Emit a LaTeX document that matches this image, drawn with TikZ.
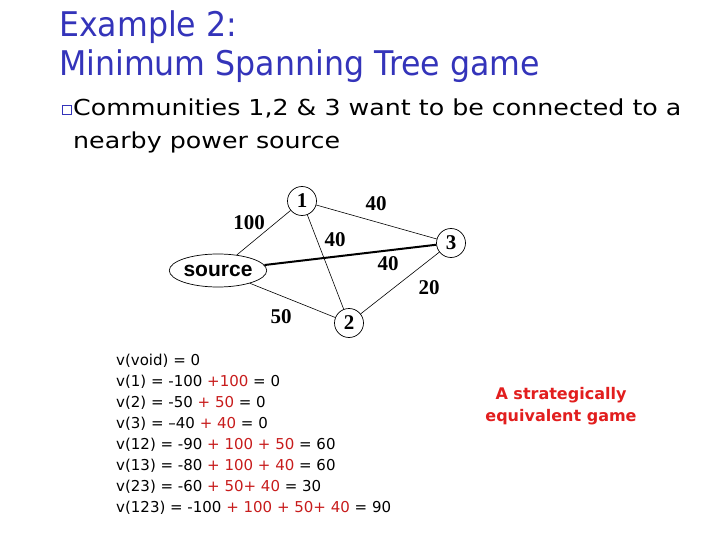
\documentclass[tikz,border=0pt]{standalone}
\usepackage{fontspec}
\usepackage{xcolor}
\setmainfont{DejaVu Sans}
\newfontfamily\titlefont[FakeStretch=0.93]{DejaVu Sans}
\newfontfamily\bulletfont[FakeStretch=1.15]{DejaVu Sans}
\newfontfamily\graphfont{Liberation Serif}
\newfontfamily\srcfont{Liberation Sans}
\usetikzlibrary{shapes.geometric}
\definecolor{titleblue}{RGB}{52,52,186}
\definecolor{eqred}{RGB}{200,28,28}
\definecolor{notered}{RGB}{226,30,30}

\tikzset{
  vertex/.style={circle, draw, line width=0.7pt, minimum size=29pt, inner sep=0pt,
    font=\graphfont\bfseries\fontsize{21}{21}\selectfont},
  weight/.style={inner sep=0pt, font=\graphfont\bfseries\fontsize{21}{21}\selectfont},
  edge/.style={line width=0.6pt},
  eqline/.style={anchor=base west, inner sep=0pt, font=\fontsize{15}{15}\selectfont}
}

\begin{document}
\begin{tikzpicture}[x=1pt, y=-1pt]
\useasboundingbox[fill=white] (0,0) rectangle (720,540);

% title
\node[anchor=base west, inner sep=0pt, text=titleblue, font=\titlefont\fontsize{34}{34}\selectfont] (title1) at (59,37) {Example 2:};
\node[anchor=base west, inner sep=0pt, text=titleblue, font=\titlefont\fontsize{34}{34}\selectfont] (title2) at (59,76) {Minimum Spanning Tree game};

% bullet
\draw[titleblue, line width=0.9pt] (62,105) rectangle (71,114);
\node[anchor=base west, inner sep=0pt, font=\bulletfont\fontsize{22}{22}\selectfont] (item1) at (73,116) {Communities 1,2 \& 3 want to be connected to a};
\node[anchor=base west, inner sep=0pt, font=\bulletfont\fontsize{22}{22}\selectfont] (item2) at (73,149) {nearby power source};

% graph
\node[ellipse, draw, line width=0.7pt, minimum width=88pt, minimum height=33pt, inner sep=0pt,
  font=\srcfont\bfseries\fontsize{21}{21}\selectfont] (src) at (218,270.5) {source};
\node[vertex] (one) at (302,201) {1};
\node[vertex] (two) at (349,323) {2};
\node[vertex] (three) at (451,243) {3};

\draw[edge] (src) -- (one);
\draw[edge] (src) -- (two);
\draw[edge] (one) -- (two);
\draw[edge] (one) -- (three);
\draw[edge] (two) -- (three);
\draw[line width=2pt] (src) -- (three);

\node[weight] (w1) at (249,223) {100};
\node[weight] (w13) at (376,204) {40};
\node[weight] (w12) at (335,240) {40};
\node[weight] (w3) at (388,264) {40};
\node[weight] (w2) at (281,317) {50};
\node[weight] (w23) at (429,288) {20};

% coalition values
\node[eqline] (v0) at (116,365) {v(void) = 0};
\node[eqline] (v1) at (116,386.1) {v(1) = -100 \textcolor{eqred}{+100} = 0};
\node[eqline] (v2) at (116,407.2) {v(2) = -50 \textcolor{eqred}{+ 50} = 0};
\node[eqline] (v3) at (116,428.3) {v(3) = –40 \textcolor{eqred}{+ 40} = 0};
\node[eqline] (v12) at (116,449.4) {v(12) = -90 \textcolor{eqred}{+ 100 + 50} = 60};
\node[eqline] (v13) at (116,470.5) {v(13) = -80 \textcolor{eqred}{+ 100 + 40} = 60};
\node[eqline] (v23) at (116,491.6) {v(23) = -60 \textcolor{eqred}{+ 50+ 40} = 30};
\node[eqline] (v123) at (116,512.7) {v(123) = -100 \textcolor{eqred}{+ 100 + 50+ 40} = 90};

% note
\node[anchor=base, inner sep=0pt, text=notered, font=\bfseries\fontsize{16}{16}\selectfont] (note1) at (561,399) {A strategically};
\node[anchor=base, inner sep=0pt, text=notered, font=\bfseries\fontsize{16}{16}\selectfont] (note2) at (561,421) {equivalent game};
\end{tikzpicture}
\end{document}
